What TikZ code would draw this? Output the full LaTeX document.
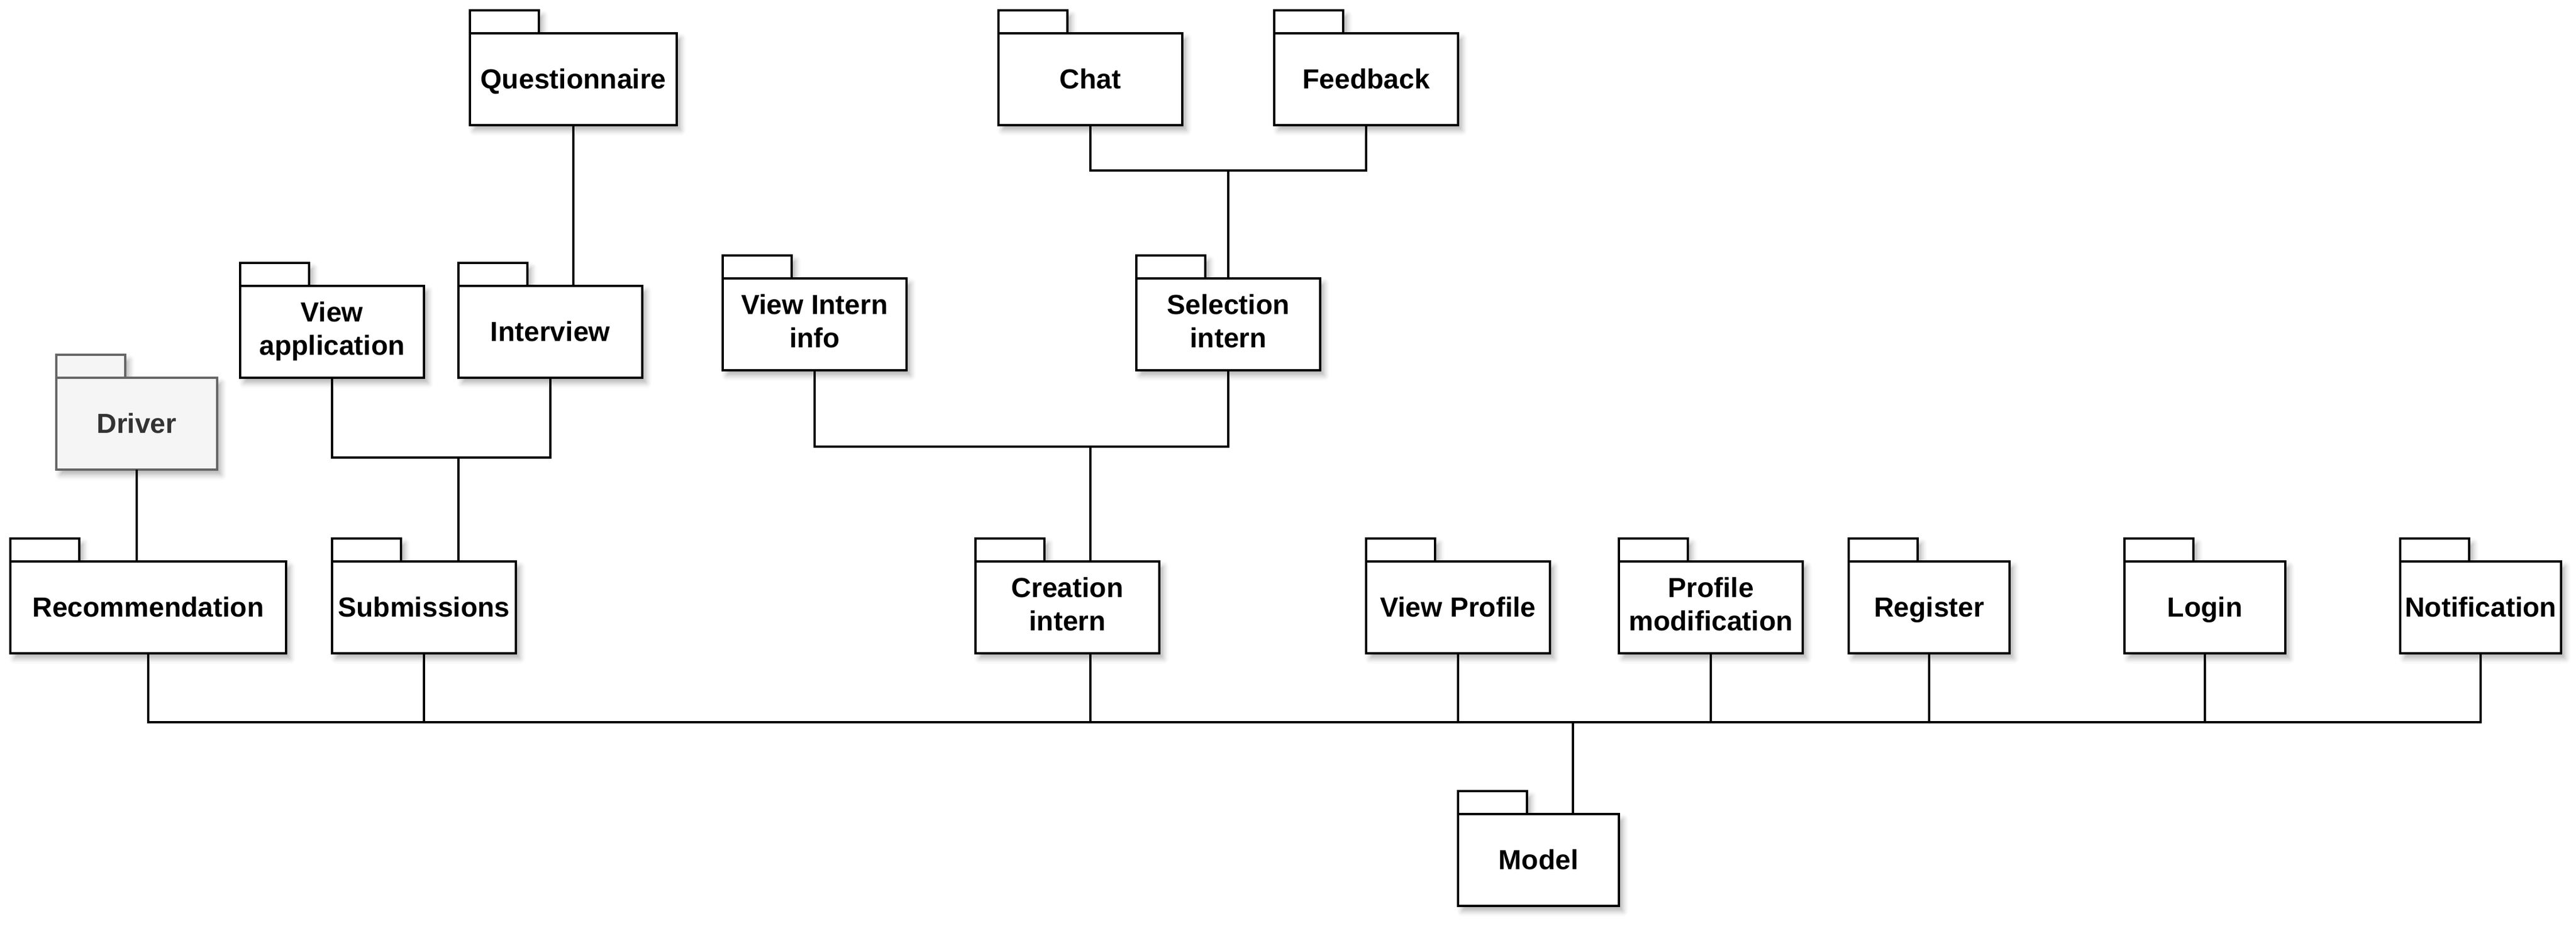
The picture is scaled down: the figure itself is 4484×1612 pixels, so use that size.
\documentclass[tikz,border=0pt]{standalone}
\usepackage{fontspec}
\setmainfont{Liberation Sans}
\usetikzlibrary{shadows.blur}
\definecolor{drvfill}{HTML}{F5F5F5}
\definecolor{drvline}{HTML}{666666}
\definecolor{drvtext}{HTML}{333333}
\newcommand\linestrut{\rule[-12.2pt]{0pt}{57.6pt}}
\tikzset{
  pkgshadow/.style={blur shadow={shadow xshift=7pt, shadow yshift=-9pt, shadow blur radius=9pt, shadow opacity=30}},
  pkgbody/.style={draw, line width=3.8pt, fill=white, rectangle, minimum height=160pt,
    inner sep=0pt, outer sep=0pt, anchor=north west, align=center,
    font=\fontsize{48}{57.6}\selectfont\bfseries, pkgshadow,
    execute at begin node=\linestrut, execute at end node=\linestrut},
  pkgtab/.style={draw, line width=3.8pt, fill=white, pkgshadow},
  drv/.style={draw=drvline, fill=drvfill, text=drvtext},
  wire/.style={line width=3.5pt, line join=miter}
}
% #1 extra style, #2 name, #3 x, #4 y (top of body), #5 width, #6 text
\newcommand\pkgnode[6][]{%
  \draw[pkgtab,#1] (#3,#4) rectangle ++(120,-40);
  \node[pkgbody,#1,minimum width=#5pt] (#2) at (#3,#4) {#6};
}
\begin{document}
\begin{tikzpicture}[x=1pt,y=-1pt]
\useasboundingbox (0,0) rectangle (4484,1612);
\pkgnode{quest}{818}{58}{360}{Questionnaire}
\pkgnode{chat}{1738}{58}{320}{Chat}
\pkgnode{fb}{2218}{58}{320}{Feedback}
\pkgnode{va}{418}{498}{320}{View\\application}
\pkgnode{intv}{798}{498}{320}{Interview}
\pkgnode{vii}{1258}{485}{320}{View Intern\\info}
\pkgnode{sel}{1978}{485}{320}{Selection\\intern}
\pkgnode[drv]{drvr}{98}{658}{280}{Driver}
\pkgnode{rec}{18}{978}{480}{Recommendation}
\pkgnode{sub}{578}{978}{320}{Submissions}
\pkgnode{cre}{1698}{978}{320}{Creation\\intern}
\pkgnode{vp}{2378}{978}{320}{View Profile}
\pkgnode{pm}{2818}{978}{320}{Profile\\modification}
\pkgnode{reg}{3218}{978}{280}{Register}
\pkgnode{login}{3698}{978}{280}{Login}
\pkgnode{notif}{4178}{978}{280}{Notification}
\pkgnode{model}{2538}{1418}{280}{Model}

\coordinate (j1) at (798,797);
\coordinate (j2) at (1898,778);
\coordinate (j3) at (2138,297);
\coordinate (bus) at (2738,1258);

\draw[wire] (quest.south) -- (quest.south |- intv.north);
\draw[wire] (va.south) |- (j1) -| (intv.south);
\draw[wire] (j1) -- (j1 |- sub.north);
\draw[wire] (drvr.south) -- (drvr.south |- rec.north);
\draw[wire] (chat.south) |- (j3) -| (fb.south);
\draw[wire] (j3) -- (sel.north);
\draw[wire] (vii.south) |- (j2) -| (sel.south);
\draw[wire] (j2) -- (j2 |- cre.north);
\draw[wire] (rec.south) |- (bus) -| (notif.south);
\draw[wire] (sub.south) -- (sub.south |- bus);
\draw[wire] (j2 |- cre.south) -- (j2 |- bus);
\draw[wire] (vp.south) -- (vp.south |- bus);
\draw[wire] (pm.south) -- (pm.south |- bus);
\draw[wire] (reg.south) -- (reg.south |- bus);
\draw[wire] (login.south) -- (login.south |- bus);
\draw[wire] (bus) -- (bus |- model.north);
\end{tikzpicture}
\end{document}
